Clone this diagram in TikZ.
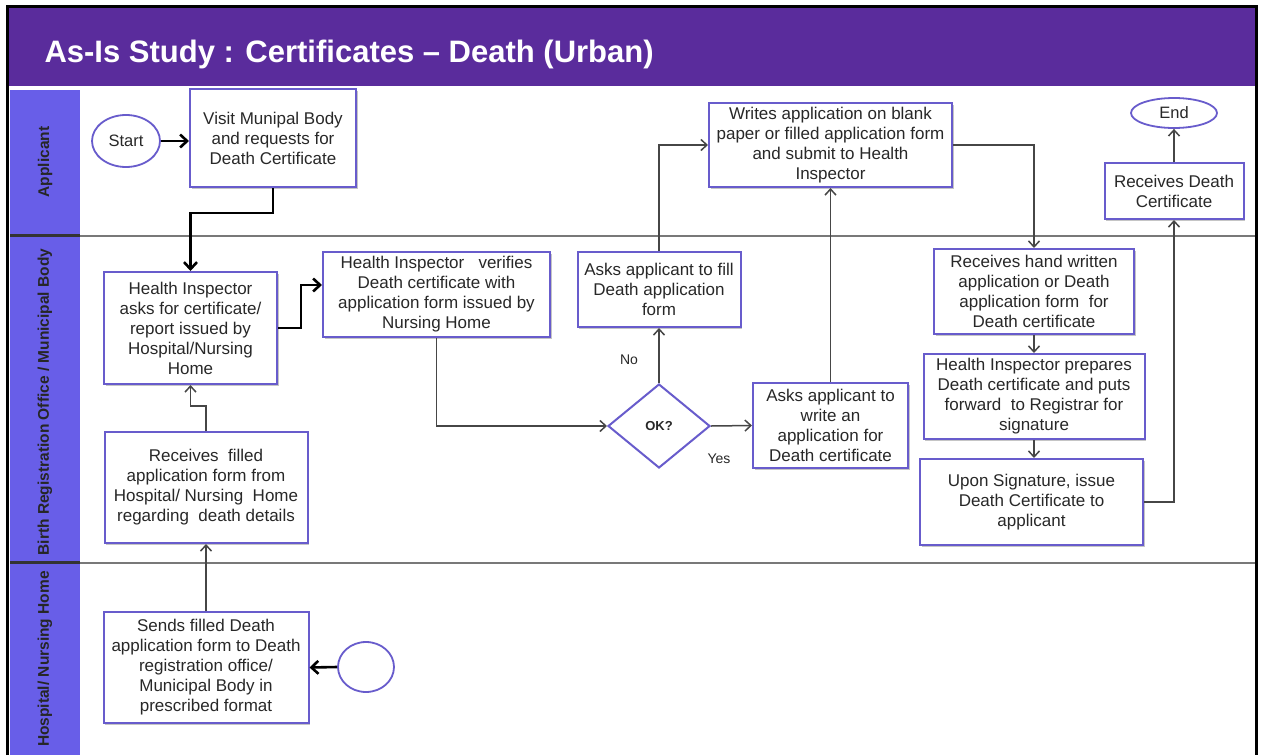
\documentclass[tikz,border=0pt]{standalone}
\usepackage{fontspec}
\setmainfont{Liberation Sans}
\usetikzlibrary{arrows.meta,shapes.geometric,shadows}

\definecolor{titlepurple}{RGB}{90,44,156}
\definecolor{lanefill}{RGB}{104,94,232}
\definecolor{boxborder}{RGB}{104,92,204}
\definecolor{linegray}{RGB}{70,70,70}
\definecolor{textgray}{RGB}{40,40,40}
\definecolor{sepgray}{RGB}{120,120,120}

\tikzset{
  procbox/.style={draw=boxborder, line width=2pt, fill=white, rectangle,
    inner sep=0pt, align=center, text=textgray,
    font=\fontsize{17}{20}\selectfont,
    drop shadow={shadow xshift=1.5pt, shadow yshift=-1.5pt, fill=black!45, opacity=0.5}},
  terminal/.style={draw=boxborder, line width=1.8pt, fill=white, ellipse,
    inner sep=0pt, text=textgray, font=\fontsize{16.5}{20}\selectfont},
  decision/.style={draw=boxborder, line width=2pt, fill=white, diamond,
    inner sep=0pt, text=textgray, font=\bfseries\fontsize{13}{15}\selectfont},
  flow/.style={draw=linegray, line width=1.5pt,
    -{Straight Barb[length=6pt,width=11pt]}},
  mainflow/.style={draw=black, line width=2.6pt,
    -{Straight Barb[length=7pt,width=13pt]}},
  lanelabel/.style={rotate=90, text=black!85,
    font=\bfseries\fontsize{15.5}{17}\selectfont},
  flowlabel/.style={text=textgray, font=\fontsize{14}{16}\selectfont},
}

\begin{document}
\begin{tikzpicture}[x=1pt,y=-1pt]
  \useasboundingbox (0,0) rectangle (1261,755);
  \fill[white] (0,0) rectangle (1261,755);

  % title bar
  \fill[titlepurple] (8.5,7.5) rectangle (1254.5,86);
  \node[anchor=base west, text=white, font=\bfseries\fontsize{31}{36}\selectfont]
    (title) at (41,62) {As-Is Study : Certificates -- Death (Urban)};

  % swimlane column and separators
  \fill[lanefill] (10,90) rectangle (80,755);
  \draw[line width=2.5pt, black!80] (10,235.5) -- (80,235.5);
  \draw[line width=2.5pt, black!80] (10,562.5) -- (80,562.5);
  \draw[line width=2pt, sepgray] (80,235.5) -- (1255,235.5);
  \draw[line width=2pt, sepgray] (80,562.5) -- (1255,562.5);

  % outer frame
  \draw[line width=3pt, black] (7,755) -- (7,6) -- (1256,6) -- (1256,755);

  % lane titles
  \node[lanelabel] (laneA) at (45,162) {Applicant};
  \node[lanelabel] (laneB) at (45,402) {Birth Registration Office / Municipal Body};
  \node[lanelabel] (laneC) at (45,659) {Hospital/ Nursing Home};

  % applicant lane
  \node[terminal, minimum width=68pt, minimum height=52pt] (start) at (126,141) {Start};
  \node[procbox, minimum width=166pt, minimum height=98pt] (visit) at (273,138)
    {Visit Munipal Body\\and requests for\\Death Certificate};
  \node[procbox, minimum width=243pt, minimum height=84pt] (writes) at (830.5,145)
    {Writes application on blank\\paper or filled application form\\and submit to Health\\Inspector};
  \node[procbox, minimum width=139pt, minimum height=56pt] (recdeath) at (1174,191)
    {Receives Death\\Certificate};
  \node[terminal, minimum width=86pt, minimum height=30pt] (endn) at (1174,113) {End};

  % registration office lane
  \node[procbox, minimum width=173pt, minimum height=112pt] (hiask) at (190.5,328)
    {Health Inspector\\asks for certificate/\\report issued by\\Hospital/Nursing\\Home};
  \node[procbox, minimum width=227pt, minimum height=85pt] (hiver) at (436.5,294.5)
    {Health Inspector~~~verifies\\Death certificate with\\application form issued by\\Nursing Home};
  \node[procbox, minimum width=203pt, minimum height=111pt] (recv) at (206,487.5)
    {Receives~~filled\\application form from\\Hospital/ Nursing~~Home\\regarding~~death details};
  \node[procbox, minimum width=163pt, minimum height=75pt] (askfill) at (659,289.5)
    {Asks applicant to fill\\Death application\\form};
  \node[decision, minimum width=102pt, minimum height=84pt] (ok) at (659,426) {OK?};
  \node[procbox, minimum width=155pt, minimum height=85pt] (askwrite) at (830.5,425.5)
    {Asks applicant to\\write an\\application for\\Death certificate};
  \node[procbox, minimum width=200pt, minimum height=85pt] (rechand) at (1034,291.5)
    {Receives hand written\\application or Death\\application form~~for\\Death certificate};
  \node[procbox, minimum width=221pt, minimum height=85pt] (prep) at (1034,396.5)
    {Health Inspector prepares\\Death certificate and puts\\forward~~to Registrar for\\signature};
  \node[procbox, minimum width=223pt, minimum height=86pt] (upon) at (1031.5,502)
    {Upon Signature, issue\\Death Certificate to\\applicant};

  % hospital lane
  \node[procbox, minimum width=205pt, minimum height=111pt] (sends) at (206,667.5)
    {Sends filled Death\\application form to Death\\registration office/\\Municipal Body in\\prescribed format};
  \node[terminal, minimum width=56pt, minimum height=50pt] (hstart) at (366,667) {};

  % connectors
  \draw[mainflow] (start.east) -- (start.east -| visit.west);
  \draw[mainflow] (visit.south) -- ++(0,25) -| (hiask.north);
  \draw[mainflow] (hiask.east) -- ++(23,0) |- ([yshift=9.5pt]hiver.west);
  \draw[mainflow] (hstart.west) -- (sends.east);
  \draw[flow] (sends.north) -- (recv.south);
  \draw[flow] (recv.north) -- ++(0,-25) -| (hiask.south);
  \draw[flow] (hiver.south) |- (ok.west);
  \draw[flow] (ok.north) -- (askfill.south);
  \draw[flow] (ok.east) -- (askwrite.west);
  \draw[flow] (askfill.north) |- (writes.west);
  \draw[flow] (askwrite.north) -- (writes.south);
  \draw[flow] (writes.east) -| (rechand.north);
  \draw[flow] (rechand.south) -- (prep.north);
  \draw[flow] (prep.south) -- (prep.south |- upon.north);
  \draw[flow] (upon.east) -| (recdeath.south);
  \draw[flow] (recdeath.north) -- (endn.south);

  % decision labels
  \node[flowlabel] (nolabel) at (629,360) {No};
  \node[flowlabel] (yeslabel) at (719,459) {Yes};
\end{tikzpicture}
\end{document}
